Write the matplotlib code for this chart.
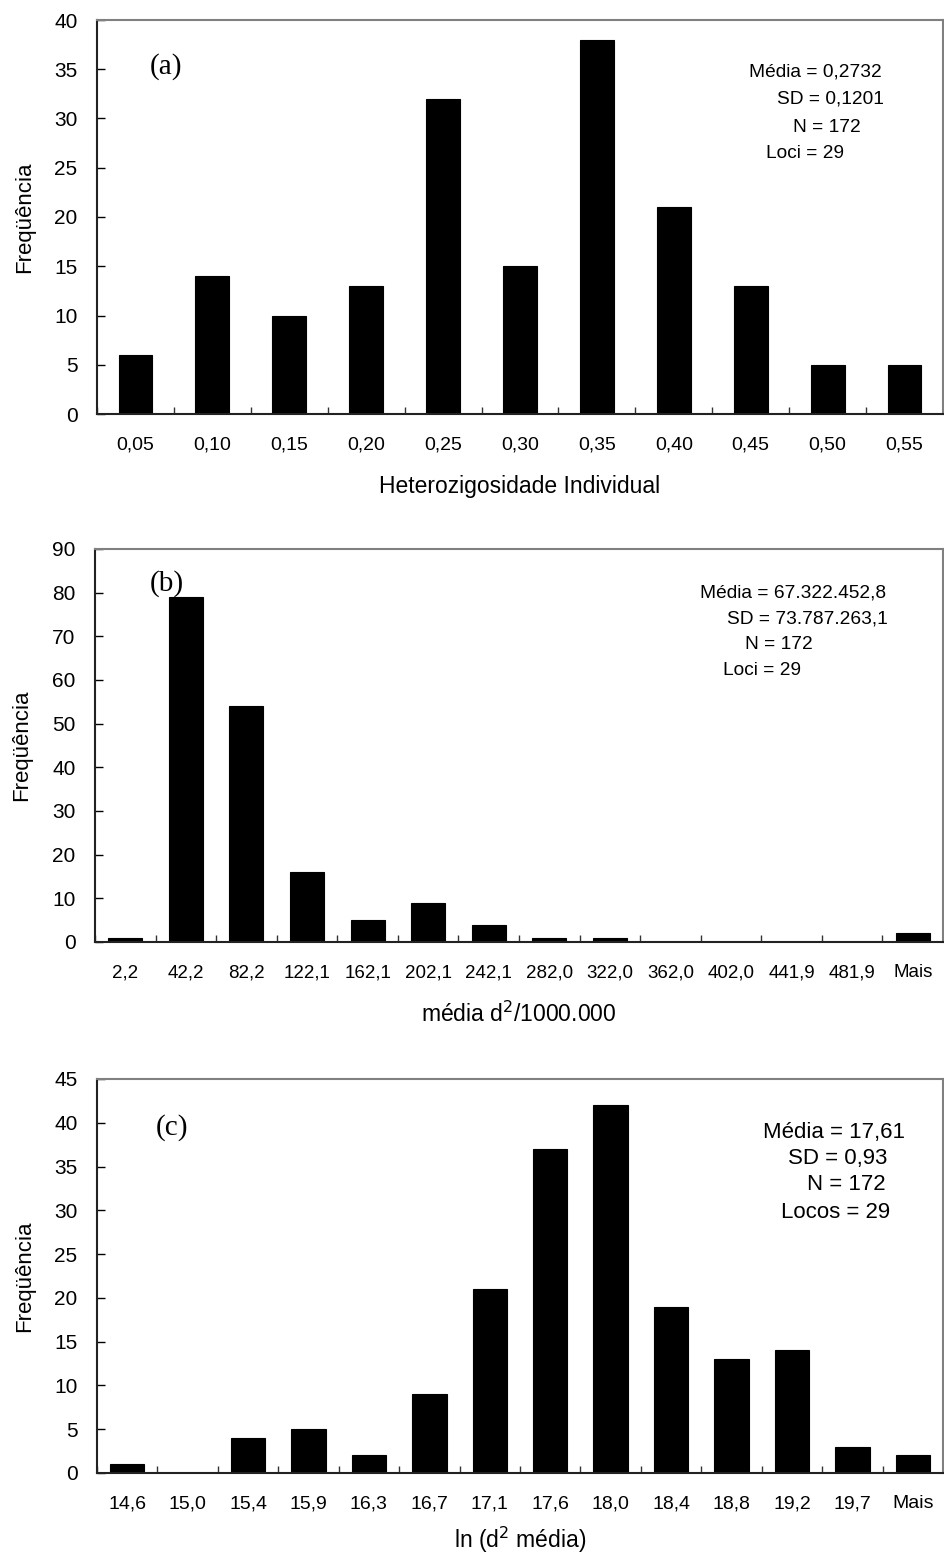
import matplotlib
matplotlib.use("Agg")
import matplotlib.pyplot as plt
import numpy as np

plt.rcParams['font.family'] = ['Liberation Sans', 'DejaVu Sans']

# (a) heterozigosidade individual
het_labels = ['0,05', '0,10', '0,15', '0,20', '0,25', '0,30', '0,35',
              '0,40', '0,45', '0,50', '0,55']
het_freq = [6, 14, 10, 13, 32, 15, 38, 21, 13, 5, 5]

# (b) média d2 / 1000.000
d2_labels = ['2,2', '42,2', '82,2', '122,1', '162,1', '202,1', '242,1',
             '282,0', '322,0', '362,0', '402,0', '441,9', '481,9', 'Mais']
d2_freq = [1, 79, 54, 16, 5, 9, 4, 1, 1, 0, 0, 0, 0, 2]

# (c) ln(d2 média)
ln_labels = ['14,6', '15,0', '15,4', '15,9', '16,3', '16,7', '17,1',
             '17,6', '18,0', '18,4', '18,8', '19,2', '19,7', 'Mais']
ln_freq = [1, 0, 4, 5, 2, 9, 21, 37, 42, 19, 13, 14, 3, 2]

W, H = 944, 1557
fig = plt.figure(figsize=(W / 100, H / 100), dpi=100)


def px_axes(left, top, right, bottom):
    return fig.add_axes([left / W, 1 - bottom / H, (right - left) / W, (bottom - top) / H])


def draw_hist(ax, labels, freq, ymax, ystep, width, xlabel, xlabel_y, letter,
              letter_pos, stats, stats_size, xtick_size=14):
    n = len(labels)
    x = np.arange(n)
    ax.bar(x, freq, width=width, color='black', edgecolor='black', linewidth=0.8)
    ax.set_xlim(-0.5, n - 0.5)
    ax.set_ylim(0, ymax)
    ax.set_yticks(np.arange(0, ymax + 1, ystep))
    ax.set_xticks(x)
    ax.set_xticklabels(labels)
    ax.set_xticks(np.arange(-0.5, n, 1.0), minor=True)
    ax.tick_params(axis='x', which='major', length=0, pad=16, labelsize=xtick_size)
    ax.tick_params(axis='x', which='minor', direction='in', length=5, width=1, color='#333333')
    ax.tick_params(axis='y', direction='in', length=6, width=1, pad=14, labelsize=15)
    for s in ('left', 'bottom'):
        ax.spines[s].set_color('#222222')
        ax.spines[s].set_linewidth(1.5)
    for s in ('top', 'right'):
        ax.spines[s].set_color('#808080')
        ax.spines[s].set_linewidth(1.5)

    ax.set_xlabel(xlabel, fontsize=16.5)
    ax.xaxis.set_label_coords(0.5, xlabel_y)
    ax.xaxis.label.set_va('center')
    ax.set_ylabel('Freqüência', fontsize=16)
    ax.yaxis.set_label_coords(-0.086, 0.5)
    ax.yaxis.label.set_va('center')

    ax.text(letter_pos[0], letter_pos[1], letter, transform=ax.transAxes,
            family=['Liberation Serif', 'DejaVu Serif'], fontsize=21,
            ha='center', va='center')
    for txt, (tx, ty) in stats:
        ax.text(tx, ty, txt, transform=ax.transAxes, fontsize=stats_size,
                ha='left', va='center')


ax_a = px_axes(97, 20, 943, 414)
draw_hist(ax_a, het_labels, het_freq, 40, 5, 0.44,
          'Heterozigosidade Individual', -0.185, '(a)', (0.082, 0.881),
          [('Média = 0,2732', (0.771, 0.868)),
           ('SD = 0,1201', (0.804, 0.799)),
           ('N = 172', (0.823, 0.728)),
           ('Loci = 29', (0.791, 0.660))], 13.8)

ax_b = px_axes(95, 549, 943, 942)
draw_hist(ax_b, d2_labels, d2_freq, 90, 10, 0.56,
          'média d$^2$/1000.000', -0.185, '(b)', (0.085, 0.913),
          [('Média = 67.322.452,8', (0.713, 0.888)),
           ('SD = 73.787.263,1', (0.745, 0.822)),
           ('N = 172', (0.767, 0.756)),
           ('Loci = 29', (0.741, 0.692))], 13.8, xtick_size=13.5)

ax_c = px_axes(97, 1079, 943, 1473)
draw_hist(ax_c, ln_labels, ln_freq, 45, 5, 0.57,
          'ln (d$^2$ média)', -0.17, '(c)', (0.089, 0.878),
          [('Média = 17,61', (0.787, 0.865)),
           ('SD = 0,93', (0.817, 0.797)),
           ('N = 172', (0.839, 0.731)),
           ('Locos = 29', (0.809, 0.662))], 16)

fig.savefig('out.png', dpi=100, facecolor='white')
